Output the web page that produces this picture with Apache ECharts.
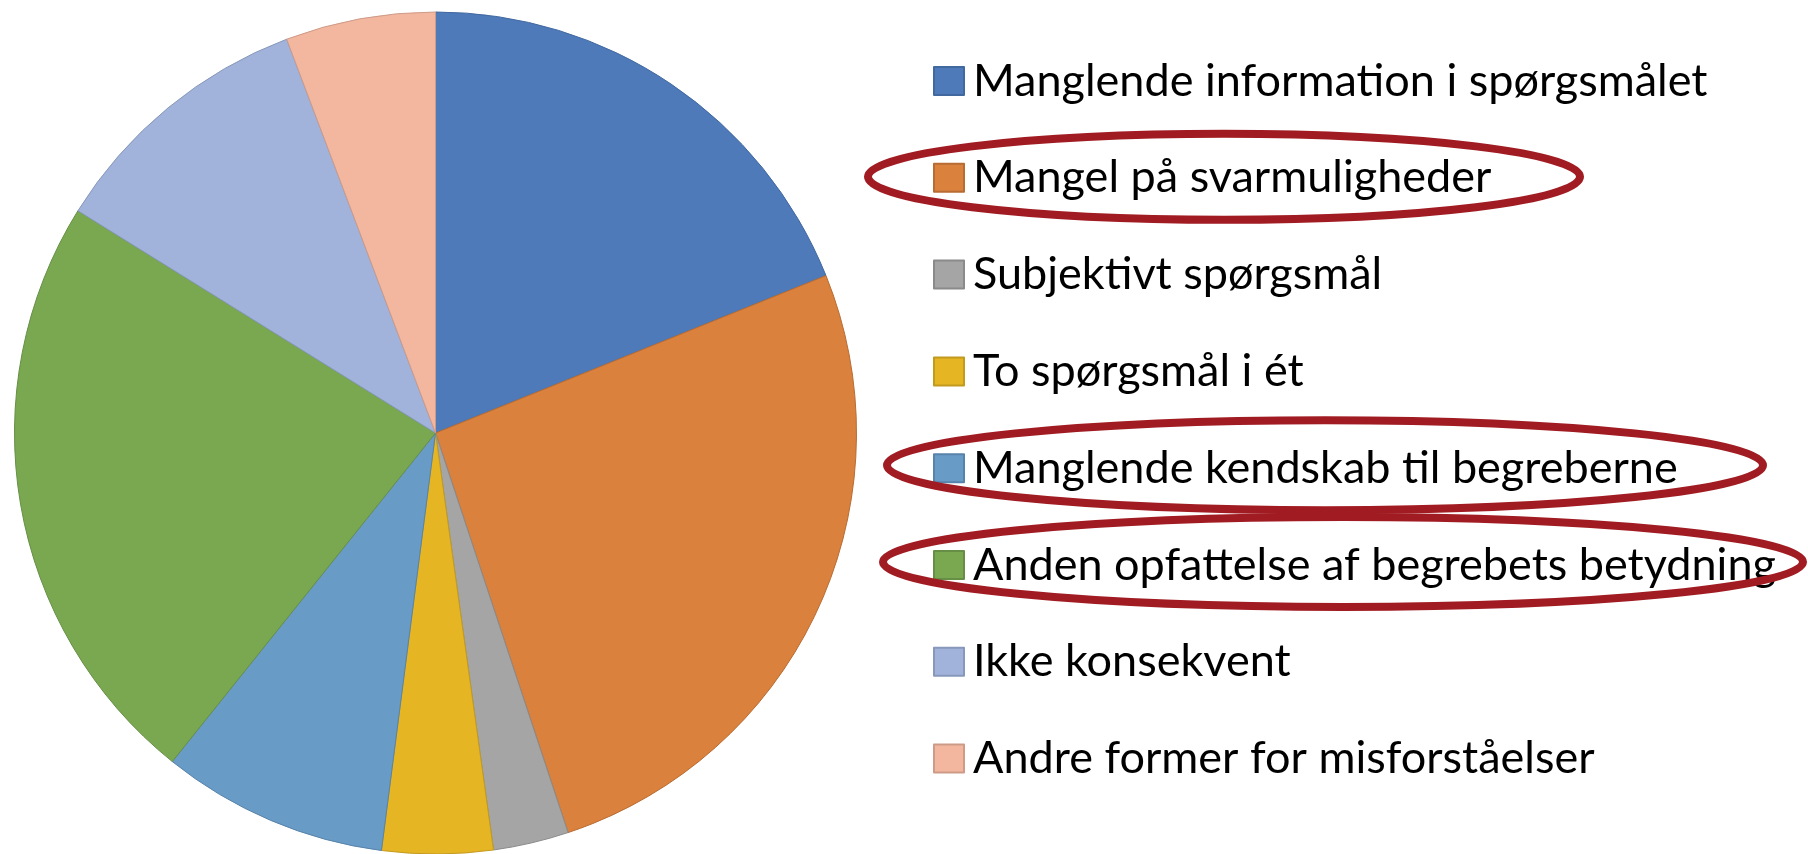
<!DOCTYPE html>
<html>
<head>
<meta charset="utf-8">
<title>Misforståelser</title>
<script src="https://cdn.jsdelivr.net/npm/echarts@6/dist/echarts.min.js"></script>
<style>
    html, body { margin: 0; padding: 0; background: #fff; }
    #chart { width: 1808px; height: 854px; }
</style>
</head>
<body>
<div id="chart"></div>
<script>
    const categories = [
        'Manglende information i spørgsmålet',
        'Mangel på svarmuligheder',
        'Subjektivt spørgsmål',
        'To spørgsmål i ét',
        'Manglende kendskab til begreberne',
        'Anden opfattelse af begrebets betydning',
        'Ikke konsekvent',
        'Andre former for misforståelser',
    ];
    // share of answers, in percent
    const values = [18.9, 26.0, 2.9, 4.25, 8.7, 23.1, 10.4, 5.75];

    const colors = ['#4E7ABA', '#D9813D', '#A5A5A5', '#E6B523', '#699BC7', '#79A851', '#A2B3DB', '#F3B7A0'];
    const borders = ['#41689F', '#B86C33', '#8A8A8A', '#C29A1E', '#5783AA', '#668F45', '#8798BA', '#CE9B88'];

    // legend items that were circled in red
    const circled = [1, 4, 5];

    const chart = echarts.init(document.getElementById('chart'));

    // the legend row is as tall as the text (font size), not the icon
    const rowH = 45;
    const rowStep = 96.8;
    const firstRow = 81;
    const ellipseRow = 78;
    const ellipses = [
        { cx: 1224, rx: 356, ry: 43, dy: 2 },
        { cx: 1325, rx: 438, ry: 45, dy: 0 },
        { cx: 1343, rx: 460, ry: 45, dy: 0 },
    ];

    const option = {
        backgroundColor: '#fff',
        animation: false,
        legend: {
            orient: 'vertical',
            left: 933,
            top: firstRow - rowH / 2,
            padding: 0,
            itemWidth: 30,
            itemHeight: 28,
            itemGap: rowStep - rowH,
            icon: 'rect',
            selectedMode: false,
            itemStyle: { borderWidth: 2 },
            textStyle: {
                fontFamily: 'Lato',
                fontSize: 45,
                color: '#000',
                padding: [0, 0, 0, 4],
            },
            data: categories,
        },
        series: [
            {
                type: 'pie',
                center: [435.5, 433],
                radius: 421,
                startAngle: 90,
                clockwise: true,
                label: { show: false },
                labelLine: { show: false },
                emphasis: { disabled: true },
                data: categories.map((name, i) => ({
                    name,
                    value: values[i],
                    itemStyle: { color: colors[i], borderColor: borders[i], borderWidth: 1 },
                })),
            },
        ],
        graphic: circled.map((idx, k) => ({
            type: 'ellipse',
            shape: {
                cx: ellipses[k].cx,
                cy: ellipseRow + idx * rowStep + ellipses[k].dy,
                rx: ellipses[k].rx,
                ry: ellipses[k].ry,
            },
            style: { fill: 'none', stroke: '#A11C22', lineWidth: 8 },
            silent: true,
            z: 100,
        })),
    };

    chart.setOption(option);
    window.addEventListener('resize', () => chart.resize());
</script>
</body>
</html>
